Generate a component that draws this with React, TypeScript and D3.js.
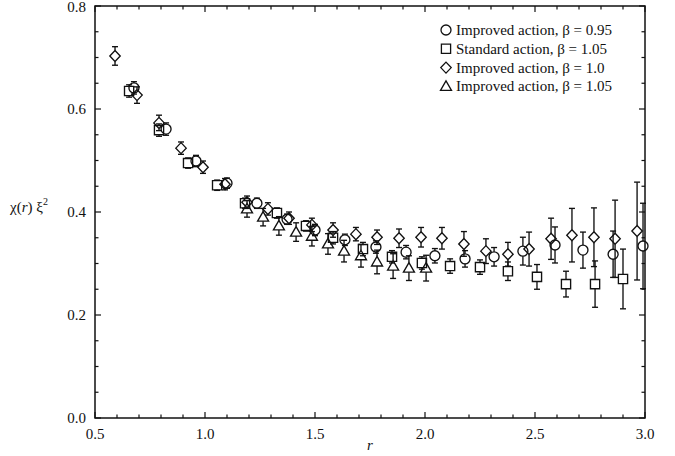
import React from 'react';
import * as d3 from 'd3';

// ---------- data ----------
const xTickLabels = ['0.5', '1.0', '1.5', '2.0', '2.5', '3.0'];
const yTickLabels = ['0.0', '0.2', '0.4', '0.6', '0.8'];

// Improved action, beta = 0.95 (circles)
const circR = [0.677, 0.823, 0.959, 1.100, 1.236, 1.373, 1.500, 1.636, 1.777, 1.914, 2.045, 2.182, 2.314, 2.445, 2.591, 2.718, 2.855, 2.991];
const circV = [0.641, 0.561, 0.499, 0.456, 0.417, 0.386, 0.365, 0.346, 0.332, 0.322, 0.315, 0.309, 0.313, 0.324, 0.336, 0.326, 0.318, 0.334];
const circE = [0.012, 0.012, 0.011, 0.010, 0.010, 0.010, 0.011, 0.011, 0.012, 0.013, 0.014, 0.016, 0.018, 0.027, 0.035, 0.035, 0.045, 0.083];

// Standard action, beta = 1.05 (squares)
const sqR = [0.655, 0.791, 0.923, 1.055, 1.182, 1.327, 1.459, 1.582, 1.718, 1.850, 1.986, 2.114, 2.250, 2.377, 2.509, 2.641, 2.773, 2.900];
const sqV = [0.635, 0.559, 0.495, 0.452, 0.417, 0.398, 0.373, 0.350, 0.328, 0.313, 0.301, 0.295, 0.293, 0.285, 0.274, 0.260, 0.260, 0.270];
const sqE = [0.012, 0.012, 0.010, 0.010, 0.010, 0.010, 0.010, 0.012, 0.013, 0.012, 0.012, 0.014, 0.014, 0.018, 0.024, 0.025, 0.045, 0.058];

// Improved action, beta = 1.0 (diamonds)
const diaR = [0.591, 0.691, 0.791, 0.891, 0.991, 1.091, 1.191, 1.286, 1.382, 1.486, 1.582, 1.686, 1.782, 1.882, 1.982, 2.077, 2.177, 2.277, 2.377, 2.473, 2.573, 2.668, 2.768, 2.864, 2.964];
const diaV = [0.703, 0.627, 0.573, 0.524, 0.487, 0.454, 0.419, 0.406, 0.388, 0.375, 0.365, 0.357, 0.351, 0.349, 0.351, 0.349, 0.338, 0.324, 0.318, 0.328, 0.348, 0.355, 0.351, 0.348, 0.363];
const diaE = [0.018, 0.016, 0.015, 0.012, 0.012, 0.011, 0.012, 0.012, 0.012, 0.013, 0.014, 0.013, 0.014, 0.018, 0.019, 0.021, 0.024, 0.024, 0.023, 0.033, 0.040, 0.052, 0.057, 0.075, 0.095];

// Improved action, beta = 1.05 (triangles)
const triR = [1.191, 1.264, 1.336, 1.414, 1.486, 1.559, 1.632, 1.709, 1.782, 1.855, 1.927, 2.005];
const triV = [0.406, 0.390, 0.373, 0.361, 0.353, 0.338, 0.324, 0.315, 0.303, 0.295, 0.291, 0.291];
const triE = [0.016, 0.017, 0.018, 0.018, 0.019, 0.020, 0.021, 0.022, 0.023, 0.024, 0.024, 0.025];

const legendLabels = [
  'Improved action, \u03b2 = 0.95',
  'Standard action, \u03b2 = 1.05',
  'Improved action, \u03b2 = 1.0',
  'Improved action, \u03b2 = 1.05',
];

// ---------- layout ----------
const W = 675, H = 456;
const L = 95, R = 645, T = 6, B = 418;
const FONT = '"Liberation Serif", "Times New Roman", serif';

const x = d3.scaleLinear().domain([0.5, 3.0]).range([L, R]);
const y = d3.scaleLinear().domain([0, 0.8]).range([B, T]);

type Shape = 'circle' | 'square' | 'diamond' | 'triangle';

const ext: Record<Shape, [number, number]> = {
  circle: [5, 5],
  square: [4.6, 4.6],
  diamond: [5.5, 5.5],
  triangle: [5.5, 4],
};

function markerPath(shape: Shape, cx: number, cy: number): string {
  const p = d3.path();
  if (shape === 'circle') {
    p.moveTo(cx + 5, cy);
    p.arc(cx, cy, 5, 0, Math.PI * 2);
  } else if (shape === 'square') {
    p.rect(cx - 4.6, cy - 4.6, 9.2, 9.2);
  } else if (shape === 'diamond') {
    p.moveTo(cx, cy - 5.5);
    p.lineTo(cx + 5.2, cy);
    p.lineTo(cx, cy + 5.5);
    p.lineTo(cx - 5.2, cy);
    p.closePath();
  } else {
    p.moveTo(cx, cy - 5.5);
    p.lineTo(cx + 5.5, cy + 4);
    p.lineTo(cx - 5.5, cy + 4);
    p.closePath();
  }
  return p.toString();
}

function Series({ rs, vs, es, shape }: { rs: number[]; vs: number[]; es: number[]; shape: Shape }) {
  const [et, eb] = ext[shape];
  return (
    <g stroke="#111" strokeWidth={1.35} fill="none">
      {rs.map((r, i) => {
        const cx = x(r), cy = y(vs[i]);
        const yt = y(vs[i] + es[i]);
        const yb = y(vs[i] - es[i]);
        return (
          <g key={i}>
            {yt < cy - et && <line x1={cx} x2={cx} y1={yt} y2={cy - et} />}
            {yb > cy + eb && <line x1={cx} x2={cx} y1={cy + eb} y2={yb} />}
            <line x1={cx - 3} x2={cx + 3} y1={yt} y2={yt} />
            <line x1={cx - 3} x2={cx + 3} y1={yb} y2={yb} />
            <path d={markerPath(shape, cx, cy)} />
          </g>
        );
      })}
    </g>
  );
}

export default function App() {
  const xMinor = d3.range(0, 26).map((i) => 0.5 + i * 0.1);
  const yMinor = d3.range(0, 17).map((i) => i * 0.05);
  const shapes: Shape[] = ['circle', 'square', 'diamond', 'triangle'];

  return (
    <svg width={W} height={H} style={{ position: 'absolute', left: 0, top: 0, background: '#fff' }}>
      <rect x={0} y={0} width={W} height={H} fill="#fff" />
      <rect x={L} y={T} width={R - L} height={B - T} fill="none" stroke="#111" strokeWidth={1.5} />
      <g stroke="#111" strokeWidth={1.2}>
        {xMinor.map((v, i) => {
          const major = i % 5 === 0;
          const len = major ? 6 : 3.5;
          return (
            <g key={'xt' + i}>
              <line x1={x(v)} x2={x(v)} y1={B} y2={B - len} />
              <line x1={x(v)} x2={x(v)} y1={T} y2={T + len} />
            </g>
          );
        })}
        {yMinor.map((v, i) => {
          const major = i % 4 === 0;
          const len = major ? 6 : 3.5;
          return (
            <g key={'yt' + i}>
              <line x1={L} x2={L + len} y1={y(v)} y2={y(v)} />
              <line x1={R} x2={R - len} y1={y(v)} y2={y(v)} />
            </g>
          );
        })}
      </g>
      <g fontFamily={FONT} fontSize={15} fill="#111">
        {xTickLabels.map((t) => (
          <text key={t} x={x(+t)} y={B + 21} textAnchor="middle">{t}</text>
        ))}
        {yTickLabels.map((t) => (
          <text key={t} x={L - 9} y={Math.max(y(+t) + 5, 12)} textAnchor="end">{t}</text>
        ))}
      </g>
      <text x={(L + R) / 2} y={450} fontFamily={FONT} fontSize={15} fontStyle="italic" textAnchor="middle" fill="#111">r</text>
      <text x={10} y={212} fontFamily={FONT} fontSize={15} fill="#111">
        {'\u03c7('}<tspan fontStyle="italic">r</tspan>{') \u03be'}<tspan fontSize={10} dy={-7}>2</tspan>
      </text>
      <Series rs={circR} vs={circV} es={circE} shape="circle" />
      <Series rs={sqR} vs={sqV} es={sqE} shape="square" />
      <Series rs={diaR} vs={diaV} es={diaE} shape="diamond" />
      <Series rs={triR} vs={triV} es={triE} shape="triangle" />
      <g>
        {legendLabels.map((lab, i) => {
          const cy = 30 + i * 18.8;
          return (
            <g key={lab}>
              <path d={markerPath(shapes[i], 446, cy)} fill="none" stroke="#111" strokeWidth={1.3} />
              <text x={456} y={cy + 5} fontFamily={FONT} fontSize={15} fill="#111">{lab}</text>
            </g>
          );
        })}
      </g>
    </svg>
  );
}
